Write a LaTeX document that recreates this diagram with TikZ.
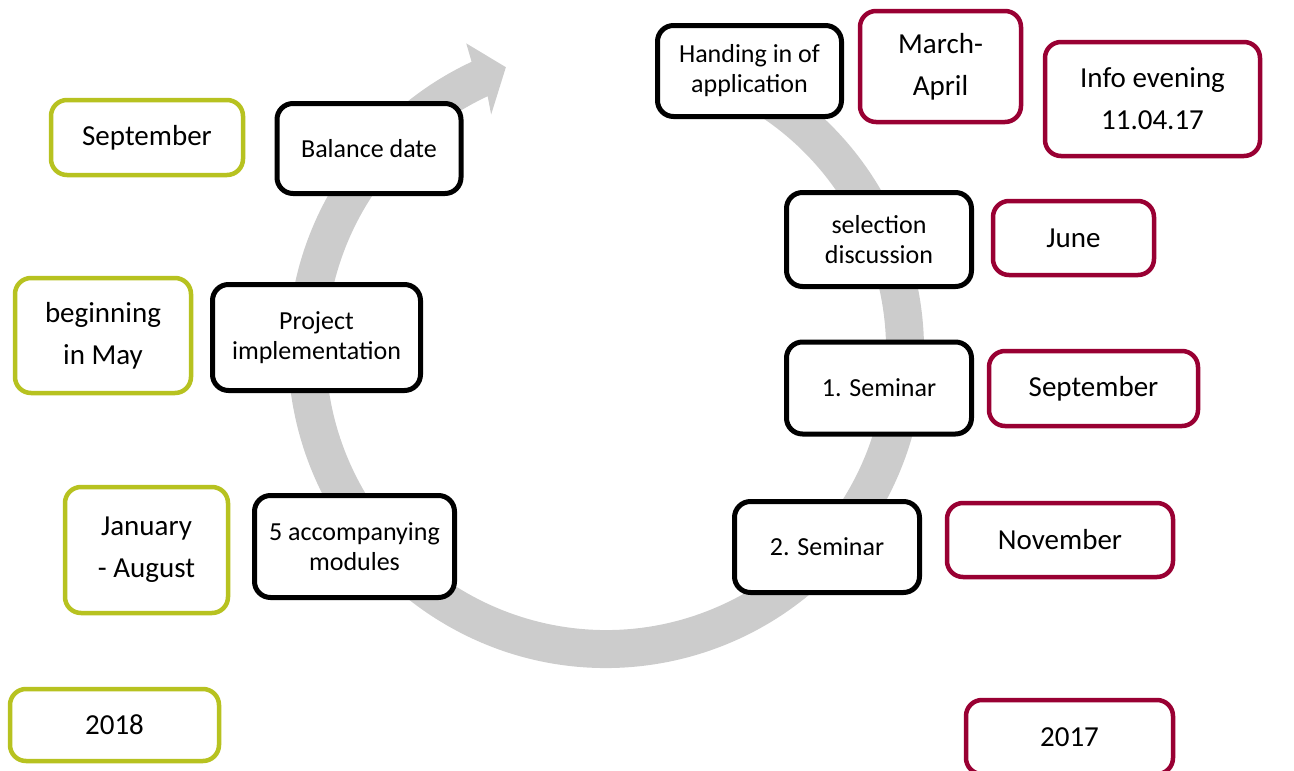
\documentclass[tikz,border=0pt]{standalone}
\usepackage{fontspec}
\setmainfont{Carlito}
\usetikzlibrary{calc}
\definecolor{maroonc}{RGB}{153,0,51}
\definecolor{limec}{RGB}{183,194,32}
\definecolor{arcgray}{RGB}{204,204,204}
\tikzset{
  sz/.style 2 args={minimum width=#1pt, minimum height=#2pt},
  basebox/.style={rounded corners=16pt, fill=white, align=center, inner sep=0pt, text=black},
  bbox/.style={basebox, draw=black, line width=5pt, font=\fontsize{26}{30}\selectfont},
  mbox/.style={basebox, draw=maroonc, line width=4.5pt, font=\fontsize{29}{42}\selectfont},
  gbox/.style={basebox, draw=limec, line width=4.5pt, font=\fontsize{29}{42}\selectfont},
}
\begin{document}
\begin{tikzpicture}[x=1pt,y=-1pt]
\useasboundingbox (0,0) rectangle (1294,771);
\coordinate (C) at (606,350);
% circular arrow
\fill[arcgray] ($(C)+(-60:318)$) arc[start angle=-60, end angle=245, radius=318]
  -- ($(C)+(245.5:337)$) -- ($(C)+(250.5:300)$) -- ($(C)+(244:262)$)
  -- ($(C)+(245:280)$) arc[start angle=245, end angle=-60, radius=280] -- cycle;
% black boxes
\node[bbox, sz={184}{91}] (hand) at (749.5,71) {Handing in of\\application};
\node[bbox, sz={184}{90}] (bal) at (369,148.5) {Balance date};
\node[bbox, sz={185}{94}] (sel) at (879,239.5) {selection\\discussion};
\node[bbox, sz={208}{106}] (proj) at (316.5,337.5) {Project\\implementation};
\node[bbox, sz={185}{92}] (sem1) at (879,388) {1. Seminar};
\node[bbox, sz={200}{102}] (mod) at (354.5,546.5) {5 accompanying\\modules};
\node[bbox, sz={185}{91}] (sem2) at (827,547) {2. Seminar};
% maroon boxes
\node[mbox, sz={161}{111}] (march) at (940.5,66.5) {March-\\April};
\node[mbox, sz={215}{114}] (info) at (1152.5,99) {Info evening\\11.04.17};
\node[mbox, sz={161}{74}] (june) at (1073.5,238) {June};
\node[mbox, sz={209}{75}] (msep) at (1093.5,388.5) {September};
\node[mbox, sz={226}{74}] (nov) at (1060,540) {November};
\node[mbox, sz={207}{74}] (y17) at (1069.5,737) {2017};
% green boxes
\node[gbox, sz={192}{75}] (gsep) at (147,137.5) {September};
\node[gbox, sz={176}{115}] (may) at (103,335.5) {beginning\\in May};
\node[gbox, sz={163}{126}] (jan) at (146.5,550) {January\\- August};
\node[gbox, sz={209}{72}] (y18) at (114.5,725) {2018};
\end{tikzpicture}
\end{document}
